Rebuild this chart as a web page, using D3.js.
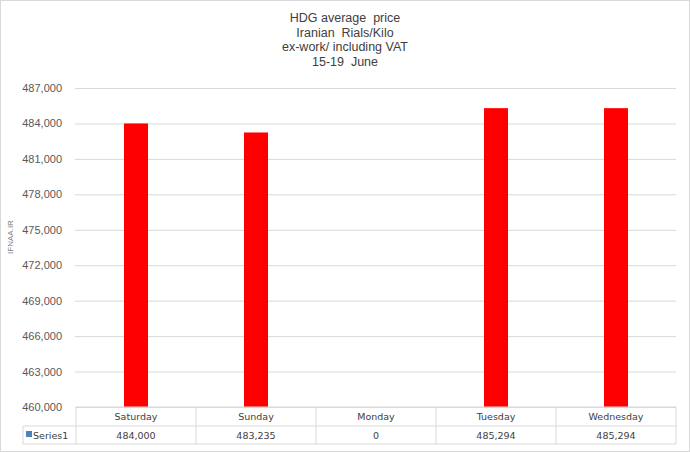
<!DOCTYPE html>
<html><head><meta charset="utf-8">
<script src="https://cdn.jsdelivr.net/npm/d3@7"></script>
<style>body{margin:0;background:#fff}svg{display:block}text{white-space:pre}</style>
</head><body>
<script>
const categories = ["Saturday","Sunday","Monday","Tuesday","Wednesday"];
const values = [484000, 483235, 0, 485294, 485294];
const valueLabels = ["484,000","483,235","0","485,294","485,294"];
const yTicks = [460000,463000,466000,469000,472000,475000,478000,481000,484000,487000];
const titleLines = ["HDG average  price","Iranian  Rials/Kilo","ex-work/ including VAT","15-19  June"];
const seriesName = "Series1";

const W = 690, H = 452;
const svg = d3.select("body").append("svg").attr("width", W).attr("height", H);
svg.append("rect").attr("x",0.5).attr("y",0.5).attr("width",W-1).attr("height",H-1)
  .attr("fill","#fff").attr("stroke","#d9d9d9");

const pLeft = 76, pRight = 676, pTop = 88, pBottom = 407;
const x = d3.scaleBand().domain(categories).range([pLeft,pRight]).paddingInner(0.8).paddingOuter(0.4);
const xb = d3.scaleBand().domain(categories).range([pLeft,pRight]);
const y = d3.scaleLinear().domain([460000,487000]).range([pBottom, pTop]);

// title
svg.append("g").selectAll("text").data(titleLines).join("text")
  .attr("x", 345).attr("y",(d,i)=>22+i*14.5).attr("text-anchor","middle")
  .attr("font-family","Liberation Sans, Arial, sans-serif").attr("font-size",12.5)
  .attr("fill","#404040").text(d=>d);

// gridlines
const yAxis = d3.axisLeft(y).tickValues(yTicks).tickSize(-(pRight-pLeft)).tickFormat(d3.format(","));
const ga = svg.append("g").attr("transform",`translate(${pLeft},0)`).call(yAxis);
ga.select(".domain").remove();
ga.selectAll(".tick line").attr("stroke","#d9d9d9").attr("x1",-1);
ga.selectAll(".tick text").attr("x",-14).attr("fill","#595959")
  .attr("font-family","Liberation Sans, Arial, sans-serif").attr("font-size",11);

// watermark
svg.append("text").attr("transform","translate(13,237) rotate(-90)").attr("text-anchor","middle")
  .attr("font-family","Liberation Sans, Arial, sans-serif").attr("font-size",8).attr("fill","#7f7f7f")
  .text("IFNAA.IR");

// bars
svg.append("g").selectAll("rect").data(categories.map((c,i)=>({c,v:values[i]})).filter(d=>d.v>=460000)).join("rect")
  .attr("x",d=>x(d.c)).attr("width",x.bandwidth())
  .attr("y",d=>y(d.v)).attr("height",d=>y(460000)-y(d.v)).attr("fill","#ff0000");

// data table
const r0 = pBottom, r1 = 426, r2 = 444, tl = 23;
const tg = svg.append("g").attr("stroke","#d9d9d9").attr("stroke-width",1).attr("fill","none");
tg.append("line").attr("x1",pLeft).attr("x2",pRight).attr("y1",r0).attr("y2",r0);
tg.append("line").attr("x1",tl).attr("x2",pRight).attr("y1",r1).attr("y2",r1);
tg.append("line").attr("x1",tl).attr("x2",pRight).attr("y1",r2).attr("y2",r2);
tg.append("line").attr("x1",tl).attr("x2",tl).attr("y1",r1).attr("y2",r2);
tg.selectAll("line.v").data(categories.concat(["_end"])).join("line").attr("class","v")
  .attr("x1",(d,i)=> i<categories.length ? xb(d) : pRight)
  .attr("x2",(d,i)=> i<categories.length ? xb(d) : pRight)
  .attr("y1",r0).attr("y2",r2);

const tf = "DejaVu Sans, Verdana, sans-serif";
svg.append("g").selectAll("text").data(categories).join("text")
  .attr("x",d=>xb(d)+xb.bandwidth()/2).attr("y",420).attr("text-anchor","middle")
  .attr("font-family",tf).attr("font-size",9.5).attr("fill","#404040").text(d=>d);
svg.append("g").selectAll("text").data(valueLabels).join("text")
  .attr("x",(d,i)=>xb(categories[i])+xb.bandwidth()/2).attr("y",439).attr("text-anchor","middle")
  .attr("font-family",tf).attr("font-size",9.5).attr("fill","#404040").text(d=>d);
svg.append("rect").attr("x",26).attr("y",431).attr("width",6).attr("height",6).attr("fill","#4f81bd");
svg.append("text").attr("x",33).attr("y",439).attr("font-family",tf).attr("font-size",9.5)
  .attr("fill","#404040").text(seriesName);
</script>
</body></html>
